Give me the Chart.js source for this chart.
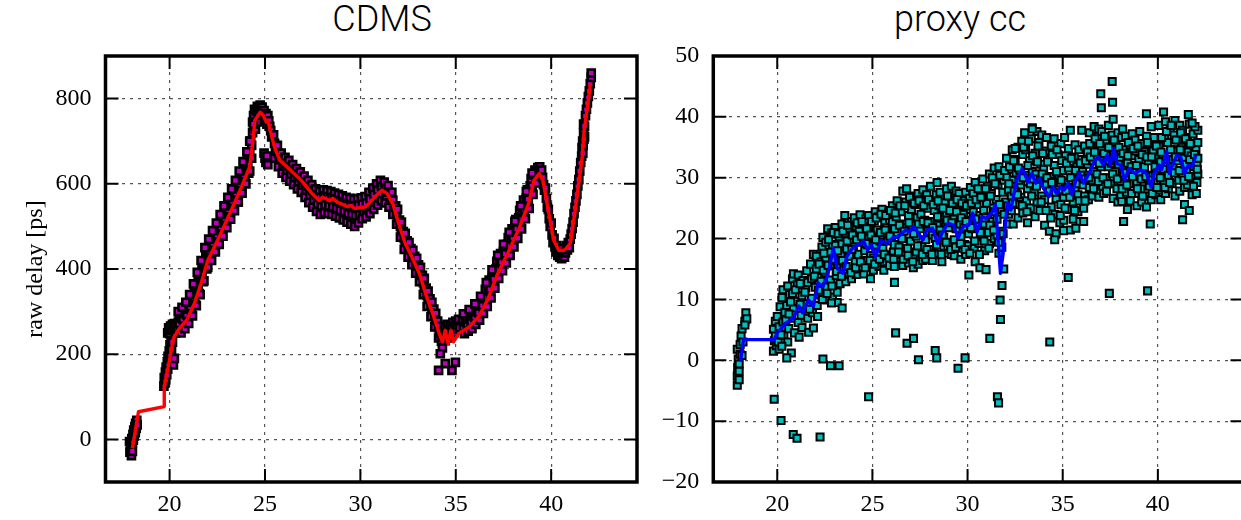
<!DOCTYPE html>
<html>
<head>
<meta charset="utf-8">
<title>CDMS / proxy cc</title>
<script src="https://cdn.jsdelivr.net/npm/chart.js@4.4.0/dist/chart.umd.min.js"></script>
<style>
  html, body { margin: 0; padding: 0; background: #fff; }
  body { width: 1241px; height: 520px; overflow: hidden; position: relative; }
  canvas { position: absolute; top: 0; }
  #cdms { left: 0; }
  #proxy { left: 640px; }
  .title {
    position: absolute; top: -2px; transform: translateX(-50%); white-space: nowrap;
    font-family: Roboto, "Liberation Sans", sans-serif; font-weight: 300; font-size: 36px; color: #000;
  }
</style>
</head>
<body>
<div class="title" style="left:382px">CDMS</div>
<div class="title" style="left:960px">proxy cc</div>
<canvas id="cdms" width="660" height="520"></canvas>
<canvas id="proxy" width="620" height="520"></canvas>
<script>
// tick positions
const timeTicks = [20, 25, 30, 35, 40];
const delayTicks = [0, 200, 400, 600, 800];
const ccTicks = [-20, -10, 0, 10, 20, 30, 40, 50];

// CDMS raw delay samples [time, delay]
const cdmsPoints = [
  [17.9,-5],[17.92,-30],[17.95,-15],[18.0,-38],[18.0,-22],[18.02,2],[18.05,-8],[18.08,12],[18.1,-2],[18.12,22],
  [18.15,8],[18.18,30],[18.2,16],[18.22,38],[18.25,26],[18.28,45],[18.3,34],[18.05,-28],
  [19.7,125],[19.72,145],[19.75,132],[19.78,158],[19.8,140],[19.82,170],[19.85,152],[19.88,182],[19.9,165],[19.92,195],
  [19.95,178],[19.98,208],[20.0,190],[20.02,222],[20.05,200],[20.08,235],[20.1,212],[20.12,185],[20.15,228],[20.2,175],[20.25,190],
  [19.9,250],[19.95,262],[20.0,248],[20.05,266],[20.1,255],[20.15,270],[20.2,258],[20.25,272],[20.3,250],[20.35,266],[20.4,258],[20.45,275],
  [20.5,288],[20.5,272],[20.55,255],[20.6,285],[20.6,250],[20.7,298],[20.7,282],[20.75,265],[20.8,296],[20.8,260],
  [20.9,310],[20.9,293],[20.95,276],[21.0,306],[21.0,272],[21.1,330],[21.1,311],[21.15,294],[21.2,325],[21.2,290],
  [21.3,352],[21.3,333],[21.35,316],[21.4,352],[21.4,314],[21.5,378],[21.5,360],[21.55,342],[21.6,380],[21.6,340],
  [21.7,406],[21.7,388],[21.75,370],[21.8,410],[21.8,372],[21.9,436],[21.9,418],[21.95,400],[22.0,440],[22.0,404],
  [22.1,460],[22.1,442],[22.15,425],[22.2,458],[22.2,420],[22.3,478],[22.3,460],[22.35,443],[22.4,476],[22.4,440],
  [22.5,497],[22.5,480],[22.55,462],[22.6,496],[22.6,458],[22.7,517],[22.7,499],[22.75,481],[22.8,515],[22.8,477],
  [22.9,537],[22.9,519],[22.95,501],[23.0,535],[23.0,497],[23.1,557],[23.1,539],[23.15,521],[23.2,555],[23.2,517],
  [23.3,577],[23.3,559],[23.35,541],[23.4,575],[23.4,537],[23.5,597],[23.5,579],[23.55,561],[23.6,595],[23.6,557],
  [23.7,618],[23.7,600],[23.75,581],[23.8,617],[23.8,578],[23.9,640],[23.9,622],[23.95,603],[24.0,640],[24.0,600],
  [24.1,665],[24.1,645],[24.15,625],[24.2,668],[24.2,630],[24.25,700],[24.3,690],[24.3,660],[24.35,720],[24.35,745],
  [20.45,300],[20.65,310],[20.85,322],[21.05,340],[21.25,365],[21.45,392],[21.65,420],[21.85,450],[22.05,470],[22.25,490],
  [22.45,508],[22.65,528],[22.85,548],[23.05,568],[23.25,588],[23.45,608],[23.65,630],[23.85,652],[24.05,675],[24.2,700],
  [24.4,760],[24.45,775],[24.5,745],[24.55,770],[24.6,782],[24.65,760],[24.7,778],[24.75,785],[24.8,770],[24.85,780],
  [24.9,760],[24.95,772],[25.0,750],[25.05,765],[25.1,740],[25.15,760],[25.2,748],[25.25,735],[25.3,725],[24.5,728],
  [24.6,745],[24.4,740],[25.35,710],[24.95,672],[25.0,660],[25.05,650],[25.1,665],[25.15,645],
  [25.45,715],[25.5,695],[25.55,676],[25.5,660],[25.65,690],[25.7,672],[25.75,650],[25.7,640],
  [25.85,672],[25.9,658],[25.95,638],[25.9,625],[26.05,662],[26.1,648],[26.15,628],[26.1,615],
  [26.25,655],[26.3,640],[26.35,620],[26.3,606],[26.45,645],[26.5,632],[26.55,612],[26.5,598],
  [26.65,636],[26.7,622],[26.75,602],[26.7,588],[26.85,628],[26.9,614],[26.95,594],[26.9,580],
  [27.05,618],[27.1,604],[27.15,584],[27.1,568],[27.25,608],[27.3,594],[27.35,572],[27.3,556],
  [27.45,598],[27.5,584],[27.55,562],[27.5,545],[27.65,588],[27.7,574],[27.75,552],[27.7,535],
  [27.85,582],[27.9,568],[27.95,546],[27.9,528],[28.05,586],[28.1,572],[28.15,550],[28.1,532],
  [28.25,584],[28.3,570],[28.35,548],[28.3,530],[28.45,582],[28.5,568],[28.55,546],[28.5,528],
  [28.65,578],[28.7,564],[28.75,542],[28.7,524],[28.85,575],[28.9,561],[28.95,538],[28.9,520],
  [29.05,572],[29.1,558],[29.15,535],[29.1,515],[29.25,568],[29.3,554],[29.35,530],[29.3,510],
  [29.45,566],[29.5,551],[29.55,528],[29.5,505],[29.65,564],[29.7,549],[29.75,525],[29.7,500],
  [29.85,565],[29.9,550],[29.95,527],[29.9,508],[30.05,567],[30.1,552],[30.15,530],[30.1,518],
  [30.25,570],[30.3,555],[30.35,534],[30.3,522],[30.45,580],[30.5,565],[30.55,544],[30.5,530],
  [30.65,590],[30.7,575],[30.75,553],[30.7,540],[30.85,600],[30.9,585],[30.95,563],[30.9,550],
  [31.05,608],[31.1,594],[31.15,572],[31.1,560],[31.25,604],[31.3,590],[31.35,566],[31.3,555],
  [31.45,596],[31.5,580],[31.55,555],[31.5,545],[31.65,580],[31.7,562],[31.75,538],[31.7,528],
  [31.85,548],[31.9,532],[31.95,512],[31.9,505],[32.05,515],[32.1,500],[32.15,482],[32.1,475],
  [32.25,488],[32.3,472],[32.35,455],[32.3,446],[32.45,466],[32.5,452],[32.55,436],[32.5,428],
  [32.65,448],[32.7,434],[32.75,418],[32.7,410],[32.85,430],[32.9,415],[32.95,398],[32.9,390],
  [33.05,410],[33.1,396],[33.15,376],[33.1,370],[33.25,385],[33.3,368],[33.35,348],[33.3,340],
  [33.45,355],[33.5,338],[33.55,318],[33.5,312],[33.65,330],[33.7,313],[33.75,294],[33.7,288],
  [33.85,306],[33.9,289],[33.95,270],[33.9,264],[34.05,278],[34.1,262],[34.15,244],[34.1,238],
  [31.95,540],[32.15,510],[32.35,484],[32.55,462],[32.75,444],[32.95,425],[33.15,404],[33.35,378],[33.55,348],[33.75,322],
  [33.95,296],[34.15,266],
  [34.2,250],[34.25,230],[34.3,215],[34.35,240],[34.4,260],[34.45,232],[34.5,250],[34.55,270],[34.6,238],[34.65,258],
  [34.7,268],[34.75,245],[34.8,262],[34.85,275],[34.9,250],[34.95,266],[35.0,278],[35.05,258],[35.1,270],[35.15,282],[35.2,262],
  [34.1,162],[34.19,201],[34.45,178],[34.8,162],[34.98,181],
  [35.35,280],[35.4,264],[35.45,248],[35.5,276],[35.55,288],[35.6,270],[35.65,254],[35.7,282],
  [35.75,294],[35.8,276],[35.85,260],[35.9,290],[35.95,304],[36.0,286],[36.05,270],[36.1,300],
  [36.15,316],[36.2,297],[36.25,280],[36.3,316],[36.35,334],[36.4,314],[36.45,296],[36.5,334],
  [36.55,352],[36.6,332],[36.65,312],[36.7,354],[36.75,374],[36.8,353],[36.85,332],[36.9,378],
  [36.95,396],[37.0,376],[37.05,355],[37.1,400],[37.15,418],[37.2,398],[37.25,378],[37.3,420],
  [37.35,436],[37.4,416],[37.45,396],[37.5,440],[37.55,456],[37.6,436],[37.65,414],[37.7,458],
  [37.75,474],[37.8,454],[37.85,432],[37.9,478],[37.95,494],[38.0,474],[38.05,452],[38.1,498],
  [38.15,516],[38.2,494],[38.25,472],[38.3,520],[38.35,538],[38.4,516],[38.45,494],[38.5,544],
  [38.55,562],[38.6,540],[38.65,518],[38.7,566],[38.75,586],[38.8,564],[38.85,542],[38.9,595],
  [38.95,612],[39.0,594],[39.05,575],[39.1,620],[39.15,632],[39.2,618],[39.25,602],[39.3,638],
  [39.35,628],[39.4,640],[39.45,620],[39.5,632],
  [35.4,295],[35.7,305],[36.0,318],[36.3,336],[36.6,368],[36.9,398],[37.2,432],[37.5,458],[37.8,486],[38.1,512],
  [38.4,548],[38.7,582],[39.0,625],
  [39.55,615],[39.6,598],[39.65,585],[39.7,590],[39.75,566],[39.8,545],[39.85,540],[39.9,518],[39.95,500],[40.0,508],
  [40.05,480],[40.1,462],[40.15,472],[40.2,452],[40.25,440],[40.3,455],[40.35,432],[40.4,445],[40.45,428],[40.5,440],
  [40.55,424],[40.6,448],[40.65,433],[40.7,428],[40.75,438],[40.8,455],[40.85,445],[40.9,462],[40.95,450],[41.0,470],
  [41.05,482],[41.1,495],[41.15,510],[41.2,530],[41.25,545],[41.3,560],[41.35,575],[41.4,595],[41.45,610],[41.5,630],
  [41.55,650],[41.6,665],[41.65,700],[41.7,720],[41.7,740],[41.75,735],[41.8,760],[41.85,775],[41.9,790],[41.95,805],
  [42.0,818],[42.05,835],[42.1,850],[42.1,860],[41.75,710],[41.62,685],[41.68,690],[41.72,705],[41.66,672]
];

// CDMS smoothed delay [time, delay]
const cdmsFit = [
  [18.05,-21],[18.37,65],[19.72,77],[19.72,124],[19.96,178],[20.2,237],[20.5,260],[20.9,280],[21.3,319],[21.65,366],
  [22.0,420],[22.6,475],[23.15,530],[23.7,585],[24.2,640],[24.37,702],[24.47,749],[24.75,768],[24.9,761],[25.07,745],
  [25.16,749],[25.27,726],[25.5,686],[25.78,655],[26.34,632],[26.9,608],[27.47,577],[27.84,561],[28.0,568],[28.2,565],
  [28.4,560],[28.55,566],[28.78,557],[29.34,546],[29.5,549],[29.7,542],[30.28,546],[30.75,569],[31.13,585],[31.4,577],
  [31.7,553],[32.06,499],[32.35,460],[32.7,428],[33.1,389],[33.47,335],[33.85,288],[34.13,249],[34.3,229],[34.45,256],
  [34.6,225],[34.75,256],[34.88,229],[35.16,249],[35.7,264],[36.2,288],[36.66,327],[37.2,389],[37.8,444],[38.35,499],
  [38.82,554],[39.1,608],[39.38,624],[39.57,608],[39.85,538],[40.13,468],[40.4,444],[40.7,444],[41.0,460],[41.26,538],
  [41.63,663],[41.73,726],[41.9,780],[42.06,835]
];

// proxy cc samples [time, cc]
const proxyPoints = [
  [17.9,-4.1],[17.9,-2.6],[17.92,-1.2],[17.95,0.2],[17.9,1.8],[18.0,-3.2],[18.0,-0.6],[18.05,1.0],[18.05,2.6],[18.1,4.0],
  [18.15,5.2],[18.3,6.4],[18.2,3.0],[18.35,7.8],[18.4,6.8],[18.3,5.8],[18.15,0.8],[18.0,-1.8],
  [19.8,1.5],[19.85,3.2],[19.8,5.1],[19.9,6.4],[19.95,2.4],[19.9,4.0],[20.0,7.2],[20.05,3.0],[20.1,5.5],[20.15,8.8],[20.1,1.8],
  [20.25,10.3],[20.3,6.3],[20.35,4.1],[20.3,11.6],[20.4,7.9],[20.5,9.0],[20.55,12.2],[20.6,5.2],[20.55,3.0],[20.65,10.8],
  [20.75,6.9],[20.8,13.4],[20.85,8.6],[20.8,11.0],[20.9,4.5],[20.85,14.2],[21.0,9.7],[21.1,6.2],[21.05,12.4],[21.15,3.8],[21.1,14.0],
  [21.25,7.4],[21.3,10.6],[21.35,13.1],[21.3,5.4],[21.4,8.8],[21.5,11.9],[21.55,14.7],[21.6,6.9],[21.55,9.3],[21.65,4.6],[21.6,12.8],
  [21.75,15.8],[21.8,10.2],[21.85,7.8],[21.8,13.4],[21.9,5.3],[21.9,17.4],[22.0,12.0],[22.05,15.0],[22.1,9.0],[22.05,17.1],[22.15,13.6],
  [20.2,4.2],[20.45,6.6],[20.7,9.6],[20.95,11.6],[21.2,9.2],[21.45,11.2],[21.7,8.4],[21.95,13.8],[20.62,7.6],[21.2,12.6],
  [22.25,10.8],[22.3,16.2],[22.35,18.6],[22.3,13.0],[22.4,11.0],[22.4,20.2],[22.5,14.4],[22.55,19.4],[22.6,12.1],[22.55,16.8],[22.65,21.6],[22.6,9.9],
  [22.75,17.8],[22.8,13.2],[22.85,20.9],[22.8,15.5],[22.9,10.4],[22.9,19.0],[23.0,16.4],[23.05,21.8],[23.1,13.9],[23.05,18.9],[23.15,11.2],[23.15,9.5],
  [23.25,20.3],[23.3,15.2],[23.35,17.6],[23.3,12.6],[23.4,22.4],[23.4,19.1],[23.5,16.0],[23.55,23.8],[23.6,14.2],[23.55,20.8],[23.65,18.3],[23.6,12.9],
  [23.75,21.6],[23.8,17.1],[23.85,15.0],[23.8,19.5],[23.9,22.8],[23.9,13.4],[24.0,18.6],[24.05,23.4],[24.1,16.2],[24.05,20.6],[24.15,14.1],[24.15,22.0],
  [24.25,17.4],[24.3,21.2],[24.35,23.9],[24.3,15.0],[24.4,19.4],[24.5,22.6],[24.55,16.4],[24.6,20.1],[24.55,14.2],[24.65,23.2],[24.6,18.0],
  [24.75,19.0],[24.8,21.9],[24.85,15.6],[24.8,23.8],[24.9,17.2],[24.9,13.4],[25.0,20.4],[25.05,16.8],[25.1,22.9],[25.05,14.8],[25.15,18.8],[25.15,24.4],
  [25.25,21.4],[25.3,17.8],[25.35,15.4],[25.3,23.6],[25.4,19.6],[25.5,24.8],[25.55,20.6],[25.6,16.2],[25.55,18.4],[25.65,22.6],[25.6,14.8],
  [25.75,21.8],[25.8,17.2],[25.85,24.2],[25.8,19.6],[25.9,15.6],[25.9,23.0],[26.0,20.2],[26.05,25.4],[26.1,17.8],[26.05,22.8],[26.15,15.4],[26.15,19.0],
  [26.25,23.6],[26.3,21.0],[26.35,16.8],[26.3,26.2],[26.4,18.6],[26.5,24.4],[26.55,20.0],[26.6,27.8],[26.55,17.4],[26.65,22.4],[26.6,15.6],
  [26.75,26.0],[26.8,21.8],[26.85,18.4],[26.8,28.2],[26.9,23.8],[26.9,16.0],[27.0,19.6],[27.05,24.8],[27.1,22.2],[27.05,27.0],[27.15,17.0],[27.15,15.2],
  [27.25,25.6],[27.3,20.4],[27.35,23.4],[27.3,17.8],[27.4,27.4],[27.4,15.8],[27.5,21.6],[27.55,26.4],[27.6,18.8],[27.55,24.0],[27.65,16.4],[27.65,28.0],
  [27.75,23.0],[27.8,19.8],[27.85,27.2],[27.8,16.6],[27.9,25.0],[27.9,21.2],[28.0,26.4],[28.05,18.2],[28.1,22.8],[28.05,28.6],[28.15,20.6],[28.15,16.4],
  [28.25,24.6],[28.3,20.0],[28.35,27.2],[28.3,17.6],[28.4,22.2],[28.4,29.2],[28.5,25.4],[28.55,21.4],[28.6,18.6],[28.55,27.6],[28.65,23.6],[28.65,16.2],
  [28.75,20.2],[28.8,26.0],[28.85,22.6],[28.8,17.6],[28.9,28.2],[28.9,24.2],[29.0,21.8],[29.05,27.0],[29.1,19.0],[29.05,24.6],[29.15,17.4],[29.15,28.6],
  [29.25,23.2],[29.3,19.8],[29.35,26.2],[29.3,17.2],[29.4,21.6],[29.4,27.8],[29.5,24.8],[29.55,18.4],[29.6,22.4],[29.55,27.4],[29.65,20.4],[29.65,16.6],
  [29.75,26.2],[29.8,21.8],[29.85,19.0],[29.8,24.0],[29.9,27.6],[29.9,17.4],[30.0,23.0],[30.05,18.8],[30.1,26.6],[30.05,20.8],[30.15,28.4],[30.15,24.8],
  [30.25,21.6],[30.3,27.4],[30.35,18.4],[30.3,24.4],[30.4,29.2],[30.4,16.2],[30.5,25.6],[30.55,22.0],[30.6,19.2],[30.55,28.2],[30.65,23.8],[30.65,15.2],
  [30.75,27.0],[30.8,20.6],[30.85,24.6],[30.8,29.8],[30.9,22.4],[30.9,18.0],[31.0,25.8],[31.05,28.6],[31.1,21.0],[31.05,23.6],[31.15,30.6],[31.15,19.2],
  [31.25,27.4],[31.3,22.8],[31.35,25.0],[31.3,30.0],[31.4,20.0],[31.4,31.6],[31.5,26.4],[31.55,23.2],[31.6,28.8],[31.55,20.6],[31.65,31.8],[31.65,17.6],
  [31.75,24.8],[31.8,21.2],[31.85,27.6],[31.8,18.6],[31.9,29.6],[31.9,15.0],[32.0,26.0],[32.05,30.2],[32.1,22.4],[32.05,33.2],[32.15,28.0],[32.15,24.0],
  [32.25,31.4],[32.3,27.0],[32.35,34.6],[32.3,24.6],[32.4,29.6],[32.4,22.4],[32.5,33.0],[32.55,28.6],[32.6,25.6],[32.55,30.8],[32.65,35.0],[32.65,23.4],
  [32.75,31.2],[32.8,26.8],[32.85,36.0],[32.8,28.8],[32.9,24.2],[32.9,33.8],[33.0,37.4],[33.05,30.4],[33.1,26.2],[33.05,34.6],[33.15,28.2],[33.15,22.6],
  [33.25,32.8],[33.3,29.0],[33.35,36.4],[33.3,25.0],[33.4,38.2],[33.4,31.0],[33.5,27.6],[33.55,34.0],[33.6,30.6],[33.55,23.6],[33.65,37.6],[33.65,26.0],
  [33.75,35.8],[33.8,29.2],[33.85,32.2],[33.8,24.6],[33.9,27.0],[33.9,37.0],[34.0,31.4],[34.05,26.4],[34.1,34.4],[34.05,22.2],[34.15,28.8],[34.15,36.6],
  [34.25,33.0],[34.3,27.8],[34.35,30.2],[34.3,21.2],[34.4,35.2],[34.4,25.2],[34.5,29.4],[34.55,36.4],[34.6,24.0],[34.55,32.0],[34.65,26.6],[34.65,20.8],
  [34.75,33.8],[34.8,28.0],[34.85,22.6],[34.8,30.4],[34.9,35.6],[34.9,25.6],[35.0,31.2],[35.05,26.8],[35.1,36.6],[35.05,23.0],[35.15,29.2],[35.15,33.6],
  [35.25,28.4],[35.3,34.8],[35.35,24.8],[35.3,31.6],[35.4,21.4],[35.4,37.8],[35.5,30.0],[35.55,26.0],[35.6,33.4],[35.55,23.2],[35.65,35.4],[35.65,28.2],
  [35.75,31.8],[35.8,27.2],[35.85,34.6],[35.8,24.4],[35.9,29.6],[35.9,22.8],[36.0,33.0],[36.05,28.8],[36.1,25.0],[36.05,31.0],[36.15,35.2],[36.15,27.0],
  [36.25,30.4],[36.3,34.2],[36.35,26.4],[36.3,32.2],[36.4,37.4],[36.4,28.4],[36.5,35.6],[36.55,29.6],[36.6,32.8],[36.55,27.0],[36.65,38.4],[36.65,31.0],
  [36.75,33.6],[36.8,28.0],[36.85,36.8],[36.8,30.6],[36.9,26.8],[36.9,38.0],[37.0,31.8],[37.05,35.0],[37.1,28.6],[37.05,37.6],[37.15,33.2],[37.15,27.4],
  [37.25,36.2],[37.3,30.0],[37.35,33.8],[37.3,27.8],[37.4,38.6],[37.4,31.8],[37.5,34.8],[37.55,29.0],[37.6,37.0],[37.55,32.4],[37.65,26.6],[37.65,39.6],
  [37.75,31.0],[37.8,35.8],[37.85,28.2],[37.8,33.4],[37.9,37.4],[37.9,26.0],[38.0,33.2],[38.05,29.4],[38.1,36.6],[38.05,27.0],[38.15,31.6],[38.15,38.0],
  [38.25,34.6],[38.3,30.2],[38.35,27.6],[38.3,36.8],[38.4,32.4],[38.4,24.8],[38.5,29.0],[38.55,35.4],[38.6,31.8],[38.55,26.2],[38.65,37.2],[38.65,33.6],
  [38.75,31.0],[38.8,27.4],[38.85,34.4],[38.8,36.2],[38.9,29.2],[38.9,25.4],[39.0,33.0],[39.05,37.6],[39.1,28.2],[39.05,30.8],[39.15,35.6],[39.15,26.0],
  [39.25,29.8],[39.3,34.2],[39.35,27.0],[39.3,31.8],[39.4,36.8],[39.4,25.2],[39.5,32.8],[39.55,28.6],[39.6,35.6],[39.55,30.4],[39.65,26.4],[39.65,38.4],
  [39.75,34.4],[39.8,29.4],[39.85,31.8],[39.8,36.6],[39.9,27.2],[39.9,33.2],[40.0,30.8],[40.05,35.2],[40.1,28.0],[40.05,38.6],[40.15,32.6],[40.15,26.4],
  [40.25,33.8],[40.3,29.6],[40.35,36.4],[40.3,31.4],[40.4,27.4],[40.4,39.2],[40.5,35.8],[40.55,30.4],[40.6,33.0],[40.55,28.2],[40.65,37.8],[40.65,31.6],
  [40.75,29.0],[40.8,34.6],[40.85,37.0],[40.8,31.8],[40.9,27.0],[40.9,39.4],[41.0,32.8],[41.05,36.2],[41.1,29.6],[41.05,34.4],[41.15,38.6],[41.15,27.8],
  [41.25,35.0],[41.3,30.6],[41.35,33.2],[41.3,37.8],[41.4,28.4],[41.4,25.6],[41.5,31.4],[41.55,36.6],[41.6,34.2],[41.55,28.8],[41.65,38.8],[41.65,24.6],
  [41.75,33.6],[41.8,30.0],[41.85,37.2],[41.8,27.2],[41.9,35.2],[41.9,31.8],[42.0,34.6],[42.05,29.2],[42.1,37.8],[42.05,32.0],[42.1,35.8],[42.1,30.6],
  // second pass through the dense band
  [22.12,7.2],[22.17,11.5],[22.2,15.8],[22.37,10.0],[22.42,14.8],[22.45,17.6],[22.62,11.0],[22.67,15.6],[22.7,19.8],
  [22.87,12.2],[22.92,16.6],[22.95,21.0],[23.12,14.6],[23.17,18.0],[23.2,20.8],[23.37,13.8],[23.42,16.4],[23.45,21.2],
  [23.62,15.4],[23.67,19.6],[23.7,22.2],[23.87,14.4],[23.92,18.2],[23.95,20.6],[24.12,15.2],[24.17,19.8],[24.2,22.6],
  [24.37,16.2],[24.42,20.4],[24.45,22.8],[24.62,15.2],[24.67,19.2],[24.7,21.6],[24.87,16.4],[24.92,20.6],[24.95,22.8],
  [25.12,15.8],[25.17,19.8],[25.2,23.4],[25.37,16.6],[25.42,21.0],[25.45,24.0],[25.62,17.4],[25.67,21.4],[25.7,23.8],
  [25.87,16.8],[25.92,20.4],[25.95,24.6],[26.12,16.6],[26.17,21.6],[26.2,24.2],[26.37,17.8],[26.42,22.2],[26.45,25.4],
  [26.62,16.6],[26.67,21.2],[26.7,25.4],[26.87,17.2],[26.92,22.6],[26.95,26.8],[27.12,16.2],[27.17,20.8],[27.2,25.8],
  [27.37,18.8],[27.42,22.4],[27.45,26.2],[27.62,17.4],[27.67,22.8],[27.7,25.4],[27.87,18.2],[27.92,22.6],[27.95,26.4],
  [28.12,17.4],[28.17,21.8],[28.2,25.6],[28.37,19.0],[28.42,23.6],[28.45,26.2],[28.62,17.4],[28.67,20.6],[28.7,25.0],
  [28.87,19.4],[28.92,23.0],[28.95,27.0],[29.12,18.2],[29.17,22.6],[29.2,25.8],[29.37,18.6],[29.42,24.4],[29.45,26.4],
  [29.62,19.2],[29.67,23.4],[29.7,25.8],[29.87,18.2],[29.92,22.8],[29.95,25.4],[30.12,17.6],[30.17,21.8],[30.2,25.8],
  [30.37,19.6],[30.42,23.2],[30.45,26.4],[30.62,17.4],[30.67,21.0],[30.7,26.8],[30.87,19.6],[30.92,23.4],[30.95,28.2],
  [31.12,18.4],[31.17,22.2],[31.2,27.0],[31.37,21.4],[31.42,24.4],[31.45,29.0],[31.62,19.4],[31.67,25.6],[31.7,30.4],
  [31.87,20.8],[31.92,24.0],[31.95,31.2],[32.12,25.4],[32.17,29.0],[32.2,31.8],[32.37,25.8],[32.42,32.8],[32.45,27.8],
  [32.62,27.2],[32.67,31.6],[32.7,29.6],[32.87,25.4],[32.92,30.0],[32.95,35.0],[33.12,24.4],[33.17,32.0],[33.2,36.0],
  [33.37,27.0],[33.42,33.6],[33.45,29.8],[33.62,28.6],[33.67,32.6],[33.7,35.2],[33.87,26.0],[33.92,30.6],[33.95,34.0],
  [34.12,24.6],[34.17,30.0],[34.2,32.6],[34.37,23.4],[34.42,29.2],[34.45,33.8],[34.62,27.6],[34.67,31.0],[34.7,34.6],
  [34.87,23.8],[34.92,29.6],[34.95,32.8],[35.12,25.0],[35.17,27.8],[35.2,32.4],[35.37,26.8],[35.42,30.0],[35.45,33.2],
  [35.62,24.6],[35.67,31.2],[35.7,29.0],[35.87,26.2],[35.92,32.4],[35.95,30.4],[36.12,29.8],[36.17,26.2],[36.2,32.8],
  [36.37,30.0],[36.42,35.6],[36.45,33.4],[36.62,28.2],[36.67,34.2],[36.7,36.4],[36.87,29.4],[36.92,32.4],[36.95,35.6],
  [37.12,30.0],[37.17,34.0],[37.2,36.8],[37.37,29.0],[37.42,35.0],[37.45,32.8],[37.62,30.6],[37.67,33.8],[37.7,36.2],
  [37.87,29.8],[37.92,32.2],[37.95,35.0],[38.12,28.2],[38.17,34.0],[38.2,30.8],[38.37,28.8],[38.42,33.6],[38.45,35.8],
  [38.62,27.4],[38.67,30.2],[38.7,34.8],[38.87,32.0],[38.92,28.2],[38.95,35.2],[39.12,29.8],[39.17,33.8],[39.2,27.0],
  [39.37,30.2],[39.42,33.4],[39.45,35.8],[39.62,29.6],[39.67,33.4],[39.7,27.4],[39.87,30.4],[39.92,35.2],[39.95,28.4],
  [40.12,30.0],[40.17,34.2],[40.2,36.6],[40.37,28.4],[40.42,33.0],[40.45,37.6],[40.62,29.2],[40.67,34.6],[40.7,38.6],
  [40.87,30.8],[40.92,33.4],[40.95,36.2],[41.12,31.2],[41.17,34.6],[41.2,37.4],[41.37,29.6],[41.42,32.2],[41.45,36.4],
  [41.62,30.2],[41.67,33.0],[41.7,35.6],[41.87,28.6],[41.92,33.8],[41.95,38.4],[42.02,27.4],[42.07,31.4],[42.1,33.2],
  // stragglers
  [19.84,-6.4],[20.2,-9.9],[20.84,-12.2],[21.04,-12.8],[22.25,-12.6],[22.4,0.2],[22.8,-0.9],[23.25,-0.9],[24.8,-6.0],
  [26.16,12.8],[26.22,4.5],[26.82,2.8],[27.16,3.6],[27.42,0.1],[28.3,1.6],[28.38,0.4],[29.5,-1.3],[29.87,0.4],
  [31.17,3.6],[31.57,-6.0],[31.63,-7.0],[31.73,6.7],[31.71,9.9],[31.81,12.3],[34.32,3.0],[35.29,13.6],[37.45,11.0],
  [39.46,11.4],[37.6,45.8],[37.0,43.8],[37.62,42.4],[37.03,41.5],[39.6,22.4],[35.69,21.7],[34.58,19.8],[35.04,21.3],
  [30.07,14.0],[30.97,14.9],[23.41,8.6],[22.85,9.4],[20.74,1.2],[20.5,0.4],[20.24,2.3],[41.3,23.1],[40.3,40.8],
  [39.4,40.5],[41.6,40.4],[41.8,39.0],[36.1,22.8],[38.1,26.1],[38.2,22.8],[36.0,37.8],[33.4,38.0],[32.5,34.8]
];

// proxy cc smoothed [time, cc]
const proxyFit = [
  [18.07,-0.2],[18.23,3.4],[19.84,3.4],[20.0,4.5],[20.44,6.1],[20.84,6.9],[21.14,8.9],[21.34,7.8],[21.64,9.9],[21.9,8.9],
  [22.15,12.7],[22.4,12.1],[22.65,14.0],[22.95,18.4],[23.15,15.1],[23.45,14.3],[23.65,17.0],[23.95,18.4],[24.25,19.0],[24.55,19.5],
  [24.75,18.1],[24.95,19.0],[25.15,17.0],[25.45,19.7],[25.75,19.2],[26.06,20.1],[26.36,20.3],[26.56,20.9],[26.76,21.4],[26.96,21.1],
  [27.16,22.0],[27.36,21.1],[27.66,19.8],[27.86,21.4],[28.16,21.7],[28.42,19.2],[28.66,20.9],[28.97,22.5],[29.27,22.2],[29.5,20.1],
  [29.77,22.0],[30.07,22.2],[30.27,24.2],[30.5,21.1],[30.77,23.6],[30.97,23.3],[31.27,24.2],[31.47,25.5],[31.6,19.8],[31.73,14.3],
  [31.87,17.6],[31.97,22.0],[32.1,25.8],[32.27,24.7],[32.58,29.6],[32.88,31.5],[33.18,29.3],[33.38,30.7],[33.58,29.1],[33.78,29.9],
  [33.98,28.3],[34.28,26.9],[34.48,28.5],[34.68,27.4],[34.88,28.5],[35.08,28.0],[35.29,29.1],[35.49,27.2],[35.69,29.6],[35.89,30.7],
  [36.09,29.1],[36.39,30.7],[36.69,32.9],[36.89,33.4],[37.13,32.1],[37.33,33.7],[37.49,32.1],[37.69,34.8],[37.85,32.3],[38.05,32.1],
  [38.25,29.6],[38.49,31.5],[38.8,30.7],[39.1,31.3],[39.4,30.7],[39.64,28.5],[39.8,30.7],[40.06,32.1],[40.2,31.3],[40.46,34.3],
  [40.6,30.7],[40.8,32.3],[41.0,33.7],[41.2,33.4],[41.4,30.7],[41.6,32.1],[41.8,31.8],[42.0,33.7]
];

const toXY = pts => pts.map(([x, y]) => ({ x, y }));
const tickFont = { family: 'Liberation Serif', size: 24 };

// boxed frame with inward ticks on all four sides
const frameTicks = {
  id: 'frameTicks',
  afterDraw(chart) {
    const { ctx, chartArea: a, scales: { x, y } } = chart;
    ctx.save();
    ctx.strokeStyle = '#000';
    ctx.lineWidth = 2;
    ctx.beginPath();
    x.ticks.forEach(t => {
      const px = x.getPixelForValue(t.value);
      ctx.moveTo(px, a.bottom); ctx.lineTo(px, a.bottom - 13);
      ctx.moveTo(px, a.top); ctx.lineTo(px, a.top + 13);
    });
    y.ticks.forEach(t => {
      const py = y.getPixelForValue(t.value);
      ctx.moveTo(a.left, py); ctx.lineTo(a.left + 13, py);
      ctx.moveTo(a.right, py); ctx.lineTo(a.right - 13, py);
    });
    ctx.stroke();
    ctx.lineWidth = 3.5;
    ctx.strokeRect(a.left, a.top, a.right - a.left, a.bottom - a.top);
    ctx.restore();
  }
};

function makeChart(id, opts) {
  return new Chart(document.getElementById(id), {
    type: 'scatter',
    data: {
      datasets: [{
        data: toXY(opts.fit),
        showLine: true,
        borderColor: opts.lineColor,
        borderWidth: 3.4,
        borderJoinStyle: 'round',
        pointRadius: 0,
        fill: false
      }, {
        data: toXY(opts.points),
        pointStyle: 'rect',
        pointRadius: opts.markerRadius,
        pointBackgroundColor: opts.markerColor,
        pointBorderColor: '#000',
        pointBorderWidth: opts.markerEdge
      }]
    },
    options: {
      responsive: false,
      animation: false,
      events: [],
      devicePixelRatio: 1,
      layout: { padding: { top: 56, right: opts.padRight, left: 0, bottom: 0 } },
      plugins: { legend: { display: false }, tooltip: { enabled: false } },
      scales: {
        x: {
          type: 'linear', min: 16.64, max: 44.5,
          afterBuildTicks: s => { s.ticks = timeTicks.map(v => ({ value: v })); },
          afterFit: s => { s.height = 38; },
          grid: { color: '#555', lineWidth: 1.2, drawTicks: false },
          border: { display: false, dash: [3, 5] },
          ticks: { color: '#000', font: tickFont, padding: 8, maxRotation: 0, autoSkip: false }
        },
        y: {
          type: 'linear', min: opts.yMin, max: opts.yMax,
          afterBuildTicks: s => { s.ticks = opts.yTicks.map(v => ({ value: v })); },
          afterFit: s => { s.width = opts.yWidth; },
          grid: { color: '#555', lineWidth: 1.2, drawTicks: false },
          border: { display: false, dash: [3, 5] },
          ticks: {
            color: '#000', font: tickFont, padding: 14, autoSkip: false,
            callback: v => (v < 0 ? '\u2212' + Math.abs(v) : String(v))
          },
          title: opts.yTitle ? {
            display: true, text: opts.yTitle, color: '#000',
            font: { family: 'Liberation Serif', size: 24 },
            padding: { top: 21, bottom: 0 }
          } : { display: false }
        }
      }
    },
    plugins: [frameTicks]
  });
}

makeChart('cdms', {
  points: cdmsPoints, fit: cdmsFit,
  markerColor: '#bf00bf', lineColor: '#ff0000', markerRadius: 5, markerEdge: 2.6,
  yMin: -100, yMax: 900, yTicks: delayTicks, yWidth: 105.5, padRight: 23,
  yTitle: 'raw delay [ps]'
});

makeChart('proxy', {
  points: proxyPoints, fit: proxyFit,
  markerColor: '#00bfbf', lineColor: '#0000ff', markerRadius: 5, markerEdge: 2,
  yMin: -20, yMax: 50, yTicks: ccTicks, yWidth: 73.3, padRight: 16.5
});
</script>
</body>
</html>
